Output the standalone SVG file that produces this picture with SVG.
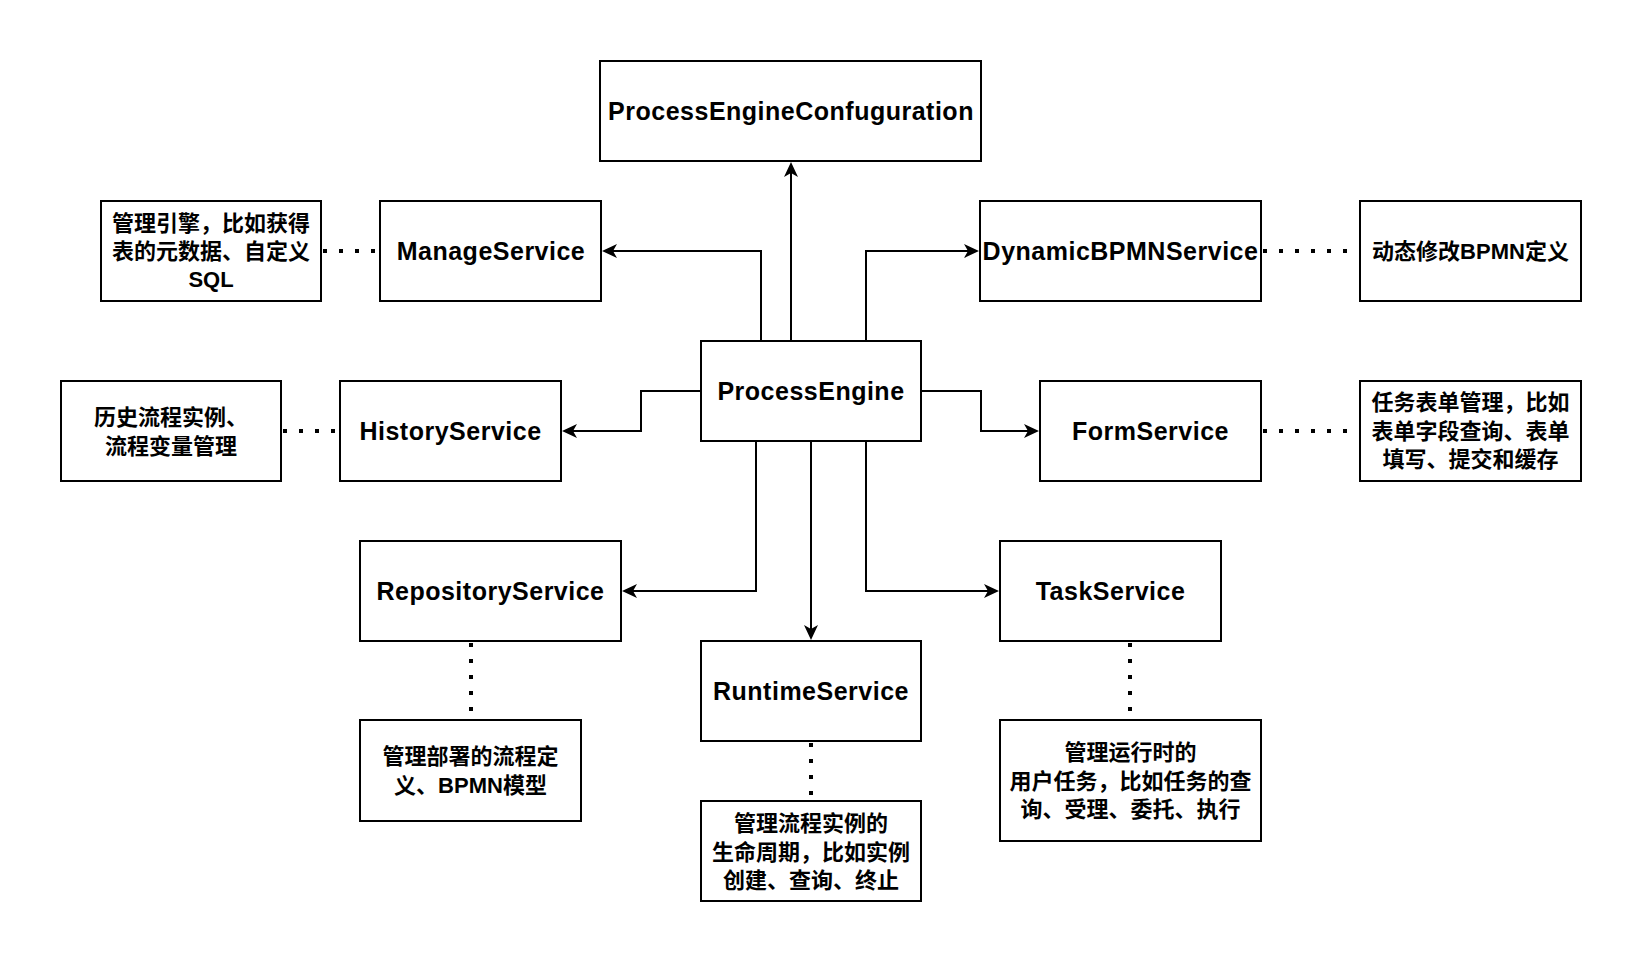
<svg xmlns="http://www.w3.org/2000/svg" width="1642" height="962" viewBox="0 0 1642 962">
<style>
.box{fill:#fff;stroke:#000;stroke-width:2}
.lbl{font-family:"Liberation Sans",Arial,"Noto Sans CJK SC",sans-serif;font-weight:bold;font-size:25px;letter-spacing:0.5px;text-anchor:middle;fill:#000}
.note{font-family:"Liberation Sans",Arial,"Noto Sans CJK SC",sans-serif;font-weight:bold;font-size:22px;text-anchor:middle;fill:#000}
.edge{fill:none;stroke:#000;stroke-width:2}
.dot{fill:none;stroke:#000;stroke-width:4;stroke-dasharray:4 12}
</style>
<defs>
<marker id="arr" viewBox="0 0 15 14" refX="4" refY="7" markerWidth="15" markerHeight="14" markerUnits="userSpaceOnUse" orient="auto">
<path d="M0,0 L15,7 L0,14 L4,7 z" fill="#000"/>
</marker>
</defs>
<rect width="1642" height="962" fill="#fff"/>
<g id="connectors">
<path class="edge" d="M791,341 V173" marker-end="url(#arr)"/>
<path class="edge" d="M761,341 V251 H613" marker-end="url(#arr)"/>
<path class="edge" d="M866,341 V251 H968" marker-end="url(#arr)"/>
<path class="edge" d="M701,391 H641 V431 H573" marker-end="url(#arr)"/>
<path class="edge" d="M921,391 H981 V431 H1028" marker-end="url(#arr)"/>
<path class="edge" d="M756,441 V591 H633" marker-end="url(#arr)"/>
<path class="edge" d="M811,441 V629" marker-end="url(#arr)"/>
<path class="edge" d="M866,441 V591 H988" marker-end="url(#arr)"/>
<path class="dot" d="M323,251 H380"/>
<path class="dot" d="M283,431 H340"/>
<path class="dot" d="M1263,251 H1360"/>
<path class="dot" d="M1263,431 H1360"/>
<path class="dot" d="M471,643 V720"/>
<path class="dot" d="M811,743 V801"/>
<path class="dot" d="M1130,643 V720"/>
</g>
<g id="pec"><rect class="box" x="600" y="61" width="381" height="100"/><text class="lbl" x="791" y="120">ProcessEngineConfuguration</text></g>
<g id="manage"><rect class="box" x="380" y="201" width="221" height="100"/><text class="lbl" x="491" y="260">ManageService</text></g>
<g id="manage-note"><rect class="box" x="101" y="201" width="220" height="100"/><text class="note" x="211" y="231">管理引擎，比如获得</text><text class="note" x="211" y="259">表的元数据、自定义</text><text class="note" x="211" y="287">SQL</text></g>
<g id="dynamic"><rect class="box" x="980" y="201" width="281" height="100"/><text class="lbl" x="1120.5" y="260">DynamicBPMNService</text></g>
<g id="dynamic-note"><rect class="box" x="1360" y="201" width="221" height="100"/><text class="note" x="1470.5" y="259">动态修改BPMN定义</text></g>
<g id="engine"><rect class="box" x="701" y="341" width="220" height="100"/><text class="lbl" x="811" y="400">ProcessEngine</text></g>
<g id="history"><rect class="box" x="340" y="381" width="221" height="100"/><text class="lbl" x="450.5" y="440">HistoryService</text></g>
<g id="history-note"><rect class="box" x="61" y="381" width="220" height="100"/><text class="note" x="171" y="425">历史流程实例、</text><text class="note" x="171" y="454">流程变量管理</text></g>
<g id="form"><rect class="box" x="1040" y="381" width="221" height="100"/><text class="lbl" x="1150.5" y="440">FormService</text></g>
<g id="form-note"><rect class="box" x="1360" y="381" width="221" height="100"/><text class="note" x="1470.5" y="410">任务表单管理，比如</text><text class="note" x="1470.5" y="438.5">表单字段查询、表单</text><text class="note" x="1470.5" y="467">填写、提交和缓存</text></g>
<g id="repository"><rect class="box" x="360" y="541" width="261" height="100"/><text class="lbl" x="490.5" y="600">RepositoryService</text></g>
<g id="repository-note"><rect class="box" x="360" y="720" width="221" height="101"/><text class="note" x="470.5" y="764">管理部署的流程定</text><text class="note" x="470.5" y="793">义、BPMN模型</text></g>
<g id="runtime"><rect class="box" x="701" y="641" width="220" height="100"/><text class="lbl" x="811" y="700">RuntimeService</text></g>
<g id="runtime-note"><rect class="box" x="701" y="801" width="220" height="100"/><text class="note" x="811" y="831">管理流程实例的</text><text class="note" x="811" y="859.5">生命周期，比如实例</text><text class="note" x="811" y="888">创建、查询、终止</text></g>
<g id="task"><rect class="box" x="1000" y="541" width="221" height="100"/><text class="lbl" x="1110.5" y="600">TaskService</text></g>
<g id="task-note"><rect class="box" x="1000" y="720" width="261" height="121"/><text class="note" x="1130.5" y="760">管理运行时的</text><text class="note" x="1130.5" y="788.5">用户任务，比如任务的查</text><text class="note" x="1130.5" y="817">询、受理、委托、执行</text></g>
</svg>
